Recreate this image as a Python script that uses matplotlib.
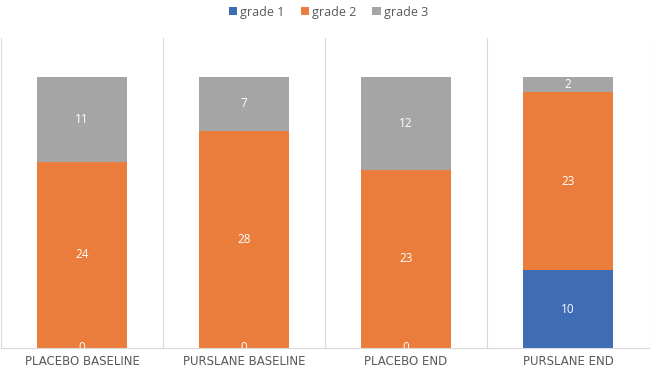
import matplotlib
matplotlib.use("Agg")
import matplotlib.pyplot as plt
import numpy as np

categories = ["PLACEBO BASELINE", "PURSLANE BASELINE", "PLACEBO END", "PURSLANE END"]
series_names = ["grade 1", "grade 2", "grade 3"]
grade1 = [0, 0, 0, 10]
grade2 = [24, 28, 23, 23]
grade3 = [11, 7, 12, 2]
colors = ["#3E6DB5", "#EB7D3C", "#A5A5A5"]

plt.rcParams['font.family'] = ['Open Sans', 'DejaVu Sans']

fig = plt.figure(figsize=(6.5, 3.69), dpi=100)
ax = fig.add_axes([0.0015, 0.057, 0.997, 0.84])

x = np.arange(len(categories))
bottom = np.zeros(len(categories))
for name, vals, c in zip(series_names, [grade1, grade2, grade3], colors):
    vals = np.array(vals, dtype=float)
    ax.bar(x, vals, width=0.55, bottom=bottom, color=c, label=name, zorder=2)
    for xi, b, v in zip(x, bottom, vals):
        if name == "grade 1" and v == 0:
            ax.text(xi, b + v / 2, f"{int(v)}", ha="center", va="center",
                    color="white", fontsize=8.5, clip_on=True, zorder=3)
        elif v > 0:
            ax.text(xi, b + v / 2, f"{int(v)}", ha="center", va="center",
                    color="white", fontsize=8.5, zorder=3)
    bottom += vals

ax.set_xlim(-0.5, len(categories) - 0.5)
ax.set_ylim(0, 40)
for b in np.arange(-0.5, len(categories), 1.0):
    ax.axvline(b, color="#D9D9D9", lw=0.8, zorder=1)
for s in ["top", "left", "right"]:
    ax.spines[s].set_visible(False)
ax.spines["bottom"].set_color("#D9D9D9")
ax.spines["bottom"].set_linewidth(0.8)
ax.set_yticks([])
ax.set_xticks(x)
ax.set_xticklabels(categories, fontsize=8.5, color="#595959", family=["DejaVu Sans"])
ax.tick_params(axis="x", length=0, pad=5)

leg = fig.legend(loc="upper center", bbox_to_anchor=(0.505, 1.015), ncol=3, frameon=False,
                 fontsize=9, handlelength=0.65, handleheight=0.65, handletextpad=0.25,
                 columnspacing=1.3, labelcolor="#595959")

fig.savefig("out.png", dpi=100, facecolor="white")
